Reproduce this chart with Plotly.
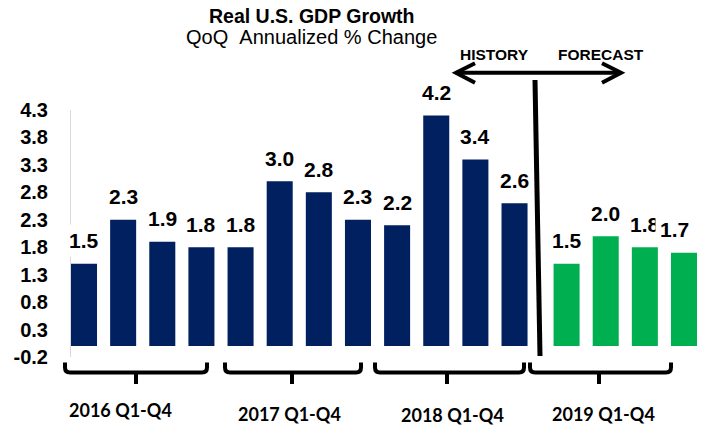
import plotly.graph_objects as go

# ---------------- data ----------------
history_quarters = ["2016 Q1", "2016 Q2", "2016 Q3", "2016 Q4",
                    "2017 Q1", "2017 Q2", "2017 Q3", "2017 Q4",
                    "2018 Q1", "2018 Q2", "2018 Q3", "2018 Q4"]
history_values = [1.5, 2.3, 1.9, 1.8, 1.8, 3.0, 2.8, 2.3, 2.2, 4.2, 3.4, 2.6]
forecast_quarters = ["2019 Q1", "2019 Q2", "2019 Q3", "2019 Q4"]
forecast_values = [1.5, 2.0, 1.8, 1.7]
group_labels = ["2016 Q1-Q4", "2017 Q1-Q4", "2018 Q1-Q4", "2019 Q1-Q4"]
y_tick_values = [-0.2, 0.3, 0.8, 1.3, 1.8, 2.3, 2.8, 3.3, 3.8, 4.3]

# ---------------- layout constants ----------------
W, H = 701, 425
L, R, T, B = 71, 4, 110, 68
PW, PH = W - L - R, H - T - B
NAVY = "#002060"
GREEN = "#00B050"
FORECAST_GAP = 0.33
BAR_W = 0.665


def px(x):
    return (x - L) / PW


def py(y):
    return (H - B - y) / PH


n_hist = len(history_values)
x_hist = list(range(n_hist))
x_fore = [n_hist + i + FORECAST_GAP for i in range(len(forecast_values))]

fig = go.Figure()
fig.add_trace(go.Bar(x=x_hist, y=history_values, width=BAR_W, marker_color=NAVY,
                     marker_line_width=0, customdata=history_quarters,
                     hovertemplate="%{customdata}: %{y}<extra></extra>"))
fig.add_trace(go.Bar(x=x_fore, y=forecast_values, width=BAR_W, marker_color=GREEN,
                     marker_line_width=0, customdata=forecast_quarters,
                     hovertemplate="%{customdata}: %{y}<extra></extra>"))

annotations = []
label_font = dict(family="Liberation Sans, Arial", size=21, color="black", weight="bold")
all_x = x_hist + x_fore
all_v = history_values + forecast_values
for i, (xv, v) in enumerate(zip(all_x, all_v)):
    annotations.append(dict(x=xv, y=v, xref="x", yref="y", text=f"{v:.1f}",
                            showarrow=False, xanchor="center", yanchor="bottom",
                            yshift=6.5, xshift=(-9 if i == len(all_v) - 1 else 0),
                            font=label_font, bgcolor="white", borderpad=4))

# titles
annotations.append(dict(x=px(311.5), y=py(16.2), xref="paper", yref="paper",
                        text="Real U.S. GDP Growth", showarrow=False,
                        xanchor="center", yanchor="middle",
                        font=dict(family="Liberation Sans, Arial", size=19.5,
                                  color="black", weight="bold")))
annotations.append(dict(x=px(311), y=py(37.2), xref="paper", yref="paper",
                        text="QoQ&nbsp;&nbsp;Annualized % Change", showarrow=False,
                        xanchor="center", yanchor="middle",
                        font=dict(family="Liberation Sans, Arial", size=20,
                                  color="black")))
for txt, cx in [("HISTORY", 494.5), ("FORECAST", 600.5)]:
    annotations.append(dict(x=px(cx), y=py(54.4), xref="paper", yref="paper",
                            text=txt, showarrow=False, xanchor="center",
                            yanchor="middle",
                            font=dict(family="Liberation Sans, Arial", size=15.5,
                                      color="black", weight="bold")))

# group labels
group_pos = [(120, 410), (289, 414), (452.5, 415), (603, 414)]
for txt, (cx, cy) in zip(group_labels, group_pos):
    annotations.append(dict(x=px(cx), y=py(cy), xref="paper", yref="paper",
                            text=txt, showarrow=False, xanchor="center",
                            yanchor="middle",
                            font=dict(family="Lato, Open Sans", size=18,
                                      color="black", weight="bold")))

shapes = []
# double arrow
ay = 72.7
shapes.append(dict(type="line", xref="paper", yref="paper",
                   x0=px(457), x1=px(620), y0=py(ay), y1=py(ay),
                   line=dict(color="black", width=4)))
shapes.append(dict(type="path", xref="paper", yref="paper",
                   path=f"M {px(475)},{py(63.3)} L {px(456)},{py(ay)} L {px(475)},{py(82.7)}",
                   line=dict(color="black", width=4)))
shapes.append(dict(type="path", xref="paper", yref="paper",
                   path=f"M {px(602)},{py(63.3)} L {px(621)},{py(ay)} L {px(602)},{py(82.7)}",
                   line=dict(color="black", width=4)))
# divider
shapes.append(dict(type="line", xref="paper", yref="paper",
                   x0=px(535), x1=px(540), y0=py(80), y1=py(356),
                   line=dict(color="black", width=5)))
# braces
ytop, ymid, ybot, r = 362.5, 372.5, 384, 5
for x0, xc, x1 in [(65, 136, 207), (225, 292, 361), (375, 447, 524), (530, 599, 671)]:
    p = (f"M {px(x0)},{py(ytop)} L {px(x0)},{py(ymid - r)} "
         f"Q {px(x0)},{py(ymid)} {px(x0 + r)},{py(ymid)} "
         f"L {px(x1 - r)},{py(ymid)} Q {px(x1)},{py(ymid)} {px(x1)},{py(ymid - r)} "
         f"L {px(x1)},{py(ytop)} M {px(xc)},{py(ymid)} L {px(xc)},{py(ybot)}")
    shapes.append(dict(type="path", xref="paper", yref="paper", path=p,
                       line=dict(color="black", width=4)))

fig.update_layout(
    width=W, height=H,
    margin=dict(l=L, r=R, t=T, b=B, pad=0),
    paper_bgcolor="white", plot_bgcolor="white",
    showlegend=False, barmode="overlay",
    xaxis=dict(range=[-BAR_W / 2, x_fore[-1] + BAR_W / 2], visible=False),
    yaxis=dict(range=[y_tick_values[0], y_tick_values[-1]],
               tickvals=y_tick_values,
               ticktext=[f"{v:.1f}" for v in y_tick_values],
               showgrid=False, zeroline=False,
               showline=True, linecolor="#D9D9D9", linewidth=1,
               ticks="", ticklabelstandoff=18,
               tickfont=dict(family="Liberation Sans, Arial", size=20,
                             color="black", weight="bold")),
    annotations=annotations,
    shapes=shapes,
)

fig.write_html("out.html")
